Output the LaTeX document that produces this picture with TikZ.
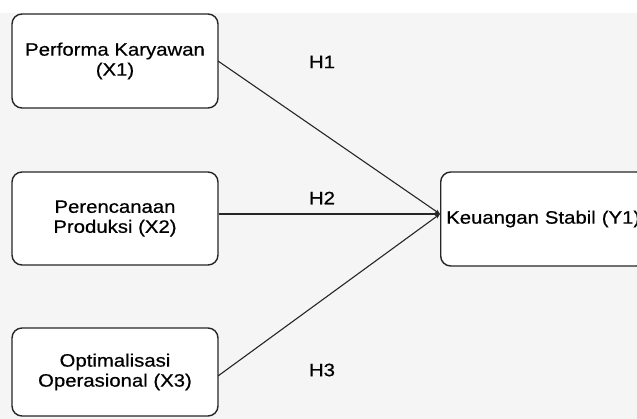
\documentclass[tikz,border=0pt]{standalone}
\usepackage{fontspec}
\setmainfont[FakeStretch=1.13,FakeBold=0.6]{Liberation Sans}
\usetikzlibrary{arrows.meta}
\begin{document}
\begin{tikzpicture}[x=1pt,y=-1pt,
  box/.style={draw=black!85,line width=1.4pt,rounded corners=10pt,fill=white,
    minimum width=206pt,align=center,font=\fontsize{18}{20}\selectfont},
  hlab/.style={font=\fontsize{18}{20}\selectfont},
  conn/.style={line width=1.1pt,draw=black!85,-{Stealth[length=5pt,width=4pt]}}]
\useasboundingbox (0,0) rectangle (637,419);
\fill[black!4] (0,13) rectangle (637,419);
\node[box,minimum height=94pt] (x1) at (115,61) {Performa Karyawan\\(X1)};
\node[box,minimum height=93pt] (x2) at (115,218.5) {Perencanaan\\Produksi (X2)};
\node[box,minimum height=88pt] (x3) at (115,372) {Optimalisasi\\Operasional (X3)};
\node[box,anchor=west,minimum height=94pt,text width=195pt,inner xsep=5pt,align=left] (y1) at (440,219) {Keuangan Stabil (Y1)};
\coordinate (c) at (440,214);
\draw[conn] (218,61) -- (c);
\draw[conn] (x2.east |- 0,214) -- (c);
\draw[conn] (218,376) -- (c);
\node[hlab] (h1) at (322,62) {H1};
\node[hlab] (h2) at (322,198) {H2};
\node[hlab] (h3) at (322,370) {H3};
\end{tikzpicture}
\end{document}
